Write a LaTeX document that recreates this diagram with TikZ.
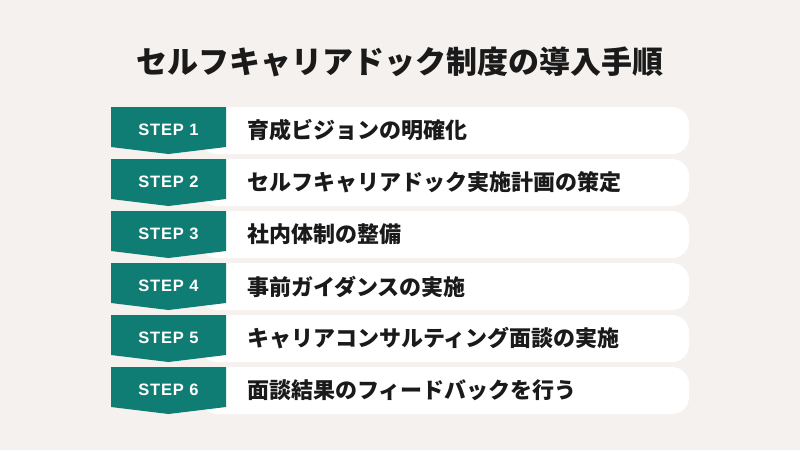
\documentclass[tikz,border=0pt]{standalone}
\usepackage{fontspec}
\setmainfont{Liberation Sans}
\newfontfamily\jp{Noto Sans CJK JP}
\newfontfamily\stepfont[LetterSpace=5]{Liberation Sans}
\definecolor{bg}{HTML}{F4F1EE}
\definecolor{tealA}{HTML}{0F7D73}
\definecolor{ink}{HTML}{1A1A1A}
\tikzset{
  steplabel/.style={font=\stepfont\bfseries\fontsize{16.5}{19}\selectfont, text=white, inner sep=0pt},
  steptext/.style={font=\jp\bfseries\fontsize{22}{26}\selectfont, text=ink, anchor=west, inner sep=0pt},
  titletext/.style={font=\jp\bfseries\fontsize{31}{37}\selectfont, text=ink, inner sep=0pt}
}
\begin{document}
\begin{tikzpicture}[x=1pt,y=-1pt]
\fill[bg] (0,0) rectangle (800,450);
\useasboundingbox (0,0) rectangle (800,450);
\node[titletext] (title) at (400,62) {セルフキャリアドック制度の導入手順};
\foreach \i/\t in {1/育成ビジョンの明確化,2/セルフキャリアドック実施計画の策定,3/社内体制の整備,4/事前ガイダンスの実施,5/キャリアコンサルティング面談の実施,6/面談結果のフィードバックを行う}{
  \pgfmathsetmacro\y{107+52*(\i-1)}
  \fill[white, rounded corners=17pt] (200,\y) -- (689,\y) -- (689,\y+47) -- (200,\y+47) -- cycle;
  \fill[tealA] (111,\y) -- (226,\y) -- (226,\y+40) -- (168.5,\y+47) -- (111,\y+40) -- cycle;
  \node[steplabel] (s\i) at (168.5,\y+23) {STEP \i};
  \node[steptext] (t\i) at (247,\y+23.5) {\t};
}
\end{tikzpicture}
\end{document}
